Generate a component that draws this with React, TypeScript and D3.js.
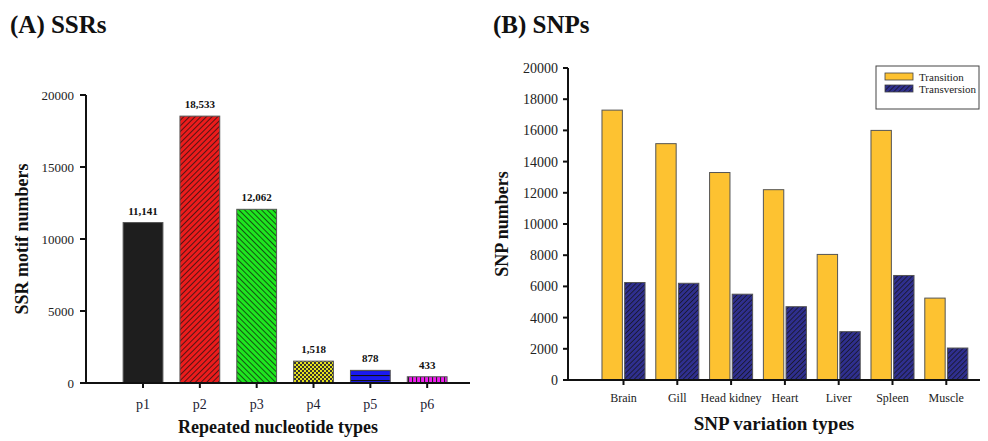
import * as d3 from 'd3';

const ssrTypes = ['p1', 'p2', 'p3', 'p4', 'p5', 'p6'];
const ssrCounts = [11141, 18533, 12062, 1518, 878, 433];
const ssrTicks = [0, 5000, 10000, 15000, 20000];

const snpTissues = ['Brain', 'Gill', 'Head kidney', 'Heart', 'Liver', 'Spleen', 'Muscle'];
const snpSeries = ['Transition', 'Transversion'];
const transitionCounts = [17300, 15150, 13300, 12200, 8050, 16000, 5250];
const transversionCounts = [6250, 6200, 5500, 4700, 3100, 6700, 2050];
const snpTicks = [0, 2000, 4000, 6000, 8000, 10000, 12000, 14000, 16000, 18000, 20000];

const ssrFills = ['#1e1e1e', 'url(#hatchRed)', 'url(#hatchGreen)', 'url(#checkYellow)', 'url(#linesBlue)', 'url(#linesPink)'];
const snpFills = ['#fdc231', 'url(#hatchNavy)'];

const serif = '"Liberation Serif", "Times New Roman", serif';
const fmt = d3.format(',');

export default function App() {
  // panel A scales
  const xA = d3.scaleBand<string>().domain(ssrTypes).range([114.6, 455.6]).paddingInner(0.3).paddingOuter(0.15);
  const yA = d3.scaleLinear().domain([0, 20000]).range([383, 95]);
  const axA = { left: 86, right: 470 };

  // panel B scales
  const xB = d3.scaleBand<string>().domain(snpTissues).range([596.6, 973.2]).paddingInner(0.2).paddingOuter(0.1);
  const xBInner = d3.scaleBand<string>().domain(snpSeries).range([0, xB.bandwidth()]).paddingInner(0.1);
  const yB = d3.scaleLinear().domain([0, 20000]).range([380, 68]);
  const axB = { left: 568, right: 980 };

  const snpRows = snpTissues.map((t, i) => ({ tissue: t, values: [transitionCounts[i], transversionCounts[i]] }));

  return (
    <svg width={988} height={441} style={{ position: 'absolute', left: 0, top: 0, background: '#fff' }} fontFamily={serif}>
      <defs>
        <pattern id="hatchRed" width={4} height={4} patternUnits="userSpaceOnUse" patternTransform="rotate(45)">
          <rect width={4} height={4} fill="#ec1c1c" />
          <line x1={0} y1={0} x2={0} y2={4} stroke="#111" strokeWidth={1.4} />
        </pattern>
        <pattern id="hatchGreen" width={4} height={4} patternUnits="userSpaceOnUse" patternTransform="rotate(-45)">
          <rect width={4} height={4} fill="#1ee61e" />
          <line x1={0} y1={0} x2={0} y2={4} stroke="#111" strokeWidth={1.4} />
        </pattern>
        <pattern id="checkYellow" width={4} height={4} patternUnits="userSpaceOnUse">
          <rect width={4} height={4} fill="#e6e21c" />
          <rect width={2} height={2} fill="#333" />
          <rect x={2} y={2} width={2} height={2} fill="#333" />
        </pattern>
        <pattern id="linesBlue" width={4} height={5} patternUnits="userSpaceOnUse">
          <rect width={4} height={5} fill="#1a1af0" />
          <line x1={0} y1={0.5} x2={4} y2={0.5} stroke="#111" strokeWidth={1.2} />
        </pattern>
        <pattern id="linesPink" width={4} height={4} patternUnits="userSpaceOnUse">
          <rect width={4} height={4} fill="#f01af0" />
          <line x1={0.5} y1={0} x2={0.5} y2={4} stroke="#222" strokeWidth={1.2} />
        </pattern>
        <pattern id="hatchNavy" width={3.5} height={3.5} patternUnits="userSpaceOnUse" patternTransform="rotate(45)">
          <rect width={3.5} height={3.5} fill="#2f2f8e" />
          <line x1={0} y1={0} x2={0} y2={3.5} stroke="#111" strokeWidth={1.3} />
        </pattern>
      </defs>

      {/* Panel A */}
      <text x={10} y={33} fontSize={25} fontWeight="bold" fill="#111">(A) SSRs</text>

      {ssrTypes.map((t, i) => (
        <g key={t}>
          <rect
            x={xA(t)}
            y={yA(ssrCounts[i])}
            width={xA.bandwidth()}
            height={yA(0) - yA(ssrCounts[i])}
            fill={ssrFills[i]}
            stroke="#555"
            strokeWidth={1}
          />
          <text x={xA(t)! + xA.bandwidth() / 2} y={yA(ssrCounts[i]) - 8} textAnchor="middle" fontSize={11} fontWeight="bold" fill="#111">
            {fmt(ssrCounts[i])}
          </text>
          <line x1={xA(t)! + xA.bandwidth() / 2} x2={xA(t)! + xA.bandwidth() / 2} y1={yA(0)} y2={yA(0) + 5} stroke="#111" strokeWidth={2} />
          <text x={xA(t)! + xA.bandwidth() / 2} y={yA(0) + 26} textAnchor="middle" fontSize={14} fill="#1d2233">{t}</text>
        </g>
      ))}

      <line x1={axA.left} x2={axA.left} y1={yA(20000)} y2={yA(0)} stroke="#111" strokeWidth={2} />
      <line x1={axA.left - 1} x2={axA.right} y1={yA(0)} y2={yA(0)} stroke="#111" strokeWidth={2} />
      {ssrTicks.map((v) => (
        <g key={v}>
          <line x1={axA.left - 6} x2={axA.left} y1={yA(v)} y2={yA(v)} stroke="#111" strokeWidth={2} />
          <text x={axA.left - 12} y={yA(v)} dy="0.35em" textAnchor="end" fontSize={13} fill="#222">{v}</text>
        </g>
      ))}
      <text transform={`translate(28,${(yA(0) + yA(20000)) / 2}) rotate(-90)`} textAnchor="middle" fontSize={18} fontWeight="bold" fill="#111">
        SSR motif numbers
      </text>
      <text x={(axA.left + axA.right) / 2} y={433} textAnchor="middle" fontSize={18} fontWeight="bold" fill="#111">
        Repeated nucleotide types
      </text>

      {/* Panel B */}
      <text x={493} y={33} fontSize={25} fontWeight="bold" fill="#111">(B) SNPs</text>

      {snpRows.map((row) => (
        <g key={row.tissue} transform={`translate(${xB(row.tissue)},0)`}>
          {row.values.map((v, j) => (
            <rect
              key={snpSeries[j]}
              x={xBInner(snpSeries[j])}
              y={yB(v)}
              width={xBInner.bandwidth()}
              height={yB(0) - yB(v)}
              fill={snpFills[j]}
              stroke="#555"
              strokeWidth={1}
            />
          ))}
          <line x1={xB.bandwidth() / 2} x2={xB.bandwidth() / 2} y1={yB(0)} y2={yB(0) + 5} stroke="#111" strokeWidth={2} />
          <text x={xB.bandwidth() / 2} y={yB(0) + 22} textAnchor="middle" fontSize={12} fill="#222">{row.tissue}</text>
        </g>
      ))}

      <line x1={axB.left} x2={axB.left} y1={yB(20000)} y2={yB(0)} stroke="#111" strokeWidth={2} />
      <line x1={axB.left - 1} x2={axB.right} y1={yB(0)} y2={yB(0)} stroke="#111" strokeWidth={2} />
      {snpTicks.map((v) => (
        <g key={v}>
          <line x1={axB.left - 5} x2={axB.left} y1={yB(v)} y2={yB(v)} stroke="#111" strokeWidth={2} />
          <text x={axB.left - 10} y={yB(v)} dy="0.35em" textAnchor="end" fontSize={14} fill="#222">{v}</text>
        </g>
      ))}
      <text transform={`translate(508,${(yB(0) + yB(20000)) / 2}) rotate(-90)`} textAnchor="middle" fontSize={18} fontWeight="bold" fill="#111">
        SNP numbers
      </text>
      <text x={(axB.left + axB.right) / 2} y={430} textAnchor="middle" fontSize={19} fontWeight="bold" fill="#111">
        SNP variation types
      </text>

      {/* legend */}
      <rect x={876} y={66} width={103} height={43} fill="#fff" stroke="#444" strokeWidth={1} />
      {snpSeries.map((s, j) => (
        <g key={s} transform={`translate(885,${73 + j * 12})`}>
          <rect width={28} height={7} fill={snpFills[j]} stroke="#444" strokeWidth={0.8} />
          <text x={34} y={4} dy="0.35em" fontSize={11} fill="#222">{s}</text>
        </g>
      ))}
    </svg>
  );
}
